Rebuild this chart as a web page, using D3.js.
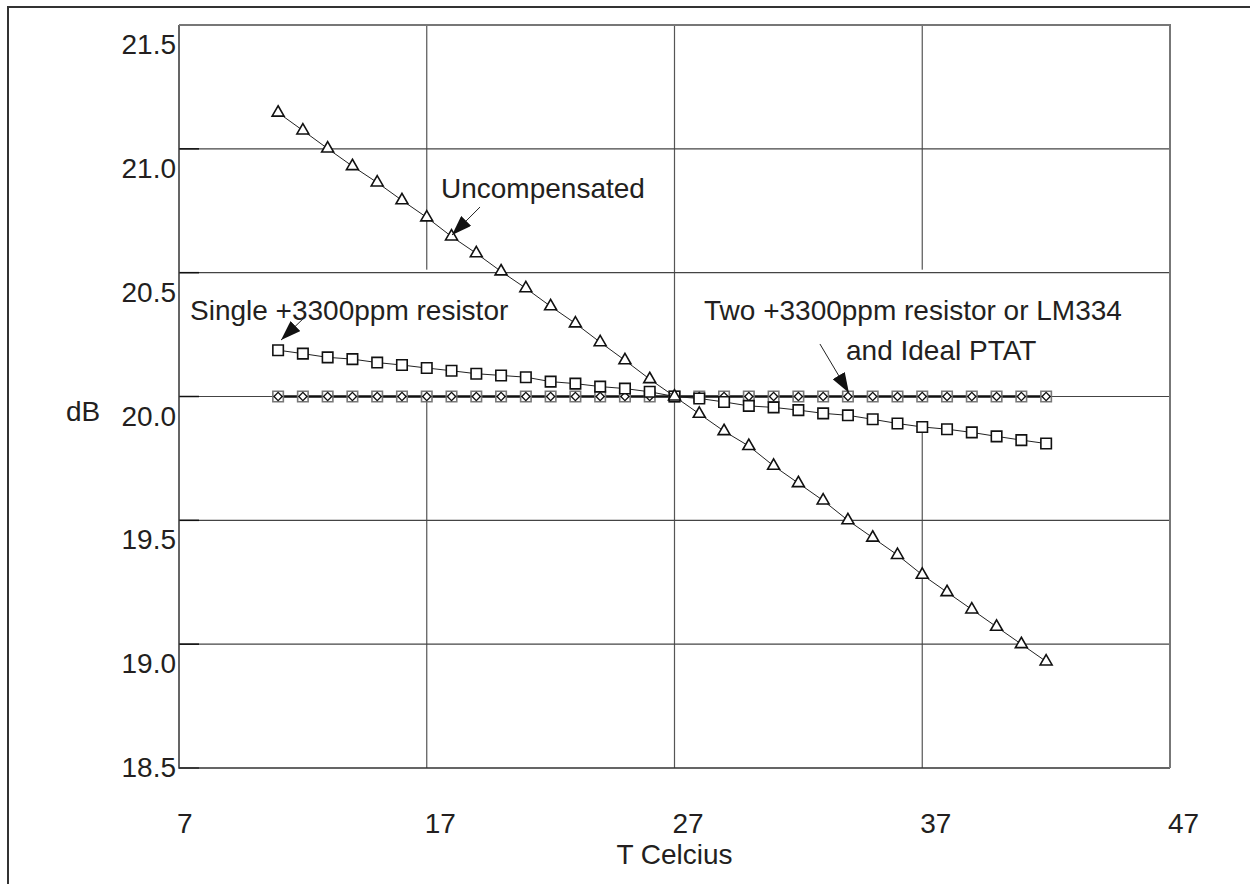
<!DOCTYPE html>
<html>
<head>
<meta charset="utf-8">
<script src="https://cdn.jsdelivr.net/npm/d3@7"></script>
<style>
  body { margin: 0; background: #fff; }
  text { font-family: "Liberation Sans", Arial, sans-serif; font-size: 28px; fill: #231f20; }
</style>
</head>
<body>
<div id="chart"></div>
<script>
width = 1250;
height = 884;

temps = [11, 12, 13, 14, 15, 16, 17, 18, 19, 20, 21, 22, 23, 24, 25, 26,
         27, 28, 29, 30, 31, 32, 33, 34, 35, 36, 37, 38, 39, 40, 41, 42];
uncompValues = [21.146, 21.074, 21.001, 20.930, 20.864, 20.792, 20.723, 20.646,
                20.578, 20.505, 20.437, 20.364, 20.295, 20.219, 20.146, 20.070,
                20.000, 19.930, 19.860, 19.800, 19.720, 19.650, 19.580, 19.500,
                19.430, 19.360, 19.280, 19.210, 19.140, 19.070, 19.000, 18.930];
singleValues = [20.187, 20.173, 20.158, 20.151, 20.137, 20.127, 20.115, 20.104,
                20.092, 20.085, 20.078, 20.060, 20.052, 20.040, 20.032, 20.019,
                20.000, 19.992, 19.978, 19.962, 19.956, 19.945, 19.932, 19.924,
                19.908, 19.891, 19.877, 19.868, 19.855, 19.839, 19.824, 19.810];
twoResValues = [20, 20, 20, 20, 20, 20, 20, 20, 20, 20, 20, 20, 20, 20, 20, 20,
                20, 20, 20, 20, 20, 20, 20, 20, 20, 20, 20, 20, 20, 20, 20, 20];
ptatValues = [20, 20, 20, 20, 20, 20, 20, 20, 20, 20, 20, 20, 20, 20, 20, 20,
              20, 20, 20, 20, 20, 20, 20, 20, 20, 20, 20, 20, 20, 20, 20, 20];
xTicks = [7, 17, 27, 37, 47];
yTicks = [18.5, 19.0, 19.5, 20.0, 20.5, 21.0, 21.5];

var x = d3.scaleLinear().domain([7, 47]).range([179, 1170]);
var y = d3.scaleLinear().domain([18.5, 21.5]).range([768, 25]);

var svg = d3.select("#chart")
            .append("svg")
            .attr("width", width)
            .attr("height", height);

svg.append("defs").append("marker")
   .attr("id", "head")
   .attr("markerUnits", "userSpaceOnUse")
   .attr("viewBox", "0 -7 20 14")
   .attr("refX", 20).attr("refY", 0)
   .attr("markerWidth", 20).attr("markerHeight", 14)
   .attr("orient", "auto")
   .append("path")
   .attr("d", "M0,-7L20,0L0,7Z")
   .style("fill", "#111");

// outer figure frame (cropped: left and top only)
svg.append("path")
   .attr("d", "M8," + height + "V7H" + width)
   .style("fill", "none").style("stroke", "#333").style("stroke-width", 2);

// vertical grid
svg.append("g").selectAll("line")
   .data(xTicks.slice(1, -1)).enter()
   .append("line")
   .attr("x1", d => x(d)).attr("x2", d => x(d))
   .attr("y1", y(21.5)).attr("y2", y(18.5))
   .style("stroke", "#555").style("stroke-width", 1.2);

// white boxes behind the labels hide parts of the grid
masks = [[7.1, 21.5, 20.5, 20.0], [28, 42.6, 20.5, 19.86]];
svg.append("g").selectAll("rect")
   .data(masks).enter()
   .append("rect")
   .attr("x", d => x(d[0])).attr("width", d => x(d[1]) - x(d[0]))
   .attr("y", d => y(d[2]) - 3).attr("height", d => y(d[3]) - y(d[2]) + 3)
   .style("fill", "#fff");

// horizontal grid
svg.append("g").selectAll("line")
   .data(yTicks.slice(1, -1)).enter()
   .append("line")
   .attr("x1", x(7)).attr("x2", x(47))
   .attr("y1", d => y(d)).attr("y2", d => y(d))
   .style("stroke", "#444").style("stroke-width", 1.2);

// inner ticks on the left edge
svg.append("g").selectAll("line")
   .data(yTicks).enter()
   .append("line")
   .attr("x1", x(7)).attr("x2", x(7) + 20)
   .attr("y1", d => y(d)).attr("y2", d => y(d))
   .style("stroke", "#111").style("stroke-width", 1.5);

// plot frame
svg.append("path")
   .attr("d", "M" + x(7) + "," + y(21.5) + "V" + y(18.5) + "H" + x(47))
   .style("fill", "none").style("stroke", "#333").style("stroke-width", 1.5);
svg.append("path")
   .attr("d", "M" + x(7) + "," + y(21.5) + "H" + x(47) + "V" + y(18.5))
   .style("fill", "none").style("stroke", "#777").style("stroke-width", 2);

svg.append("g").selectAll("text")
   .data(yTicks).enter()
   .append("text")
   .attr("x", 176)
   .attr("y", d => y(d) + (d === 18.5 ? 9 : 29))
   .attr("text-anchor", "end")
   .text(d => d.toFixed(1));

svg.append("g").selectAll("text")
   .data(xTicks).enter()
   .append("text")
   .attr("x", d => x(d) - 2)
   .attr("y", 833)
   .text(d => d);

svg.append("text").attr("x", 66).attr("y", 421).text("dB");
svg.append("text").attr("x", x(27)).attr("y", 864).attr("text-anchor", "middle").text("T Celcius");

function drawSeries(values, width, stroke) {
  var line = d3.line().x((d, i) => x(temps[i])).y(d => y(d));
  svg.append("path")
     .datum(values)
     .attr("d", line)
     .style("fill", "none").style("stroke", stroke).style("stroke-width", width);
}

function drawMarkers(values, type, size, stroke, sw) {
  svg.append("g").selectAll("path")
     .data(values).enter()
     .append("path")
     .attr("transform", (d, i) => "translate(" + x(temps[i]) + "," + y(d) + ")")
     .attr("d", d3.symbol().type(type).size(size))
     .style("fill", "#fff").style("stroke", stroke).style("stroke-width", sw);
}

drawSeries(ptatValues, 2, "#111");
drawSeries(twoResValues, 2, "#111");
drawMarkers(ptatValues, d3.symbolSquare, 110, "#777", 1.6);
svg.append("g").selectAll("path")
   .data(twoResValues).enter()
   .append("path")
   .attr("transform", (d, i) => "translate(" + x(temps[i]) + "," + y(d) + ") rotate(45)")
   .attr("d", d3.symbol().type(d3.symbolSquare).size(34))
   .style("fill", "none").style("stroke", "#111").style("stroke-width", 1.4);

drawSeries(singleValues, 1, "#222");
drawMarkers(singleValues, d3.symbolSquare, 110, "#111", 1.6);

drawSeries(uncompValues, 1, "#222");
drawMarkers(uncompValues, d3.symbolTriangle, 62, "#111", 1.6);

// annotations
labels = [
  { t: "Uncompensated", x: 441, y: 198 },
  { t: "Single +3300ppm resistor", x: 190, y: 320 },
  { t: "Two +3300ppm resistor or LM334", x: 704, y: 320 },
  { t: "and Ideal PTAT", x: 846, y: 360 }
];
svg.append("g").selectAll("text")
   .data(labels).enter()
   .append("text")
   .attr("x", d => d.x).attr("y", d => d.y)
   .text(d => d.t);

arrows = [
  [19.15, 20.765, 18.02, 20.652],
  [12.0, 20.313, 11.12, 20.228],
  [32.87, 20.212, 34.04, 20.015]
];
svg.append("g").selectAll("line")
   .data(arrows).enter()
   .append("line")
   .attr("x1", d => x(d[0])).attr("y1", d => y(d[1]))
   .attr("x2", d => x(d[2])).attr("y2", d => y(d[3]))
   .attr("marker-end", "url(#head)")
   .style("stroke", "#222").style("stroke-width", 1);
</script>
</body>
</html>
